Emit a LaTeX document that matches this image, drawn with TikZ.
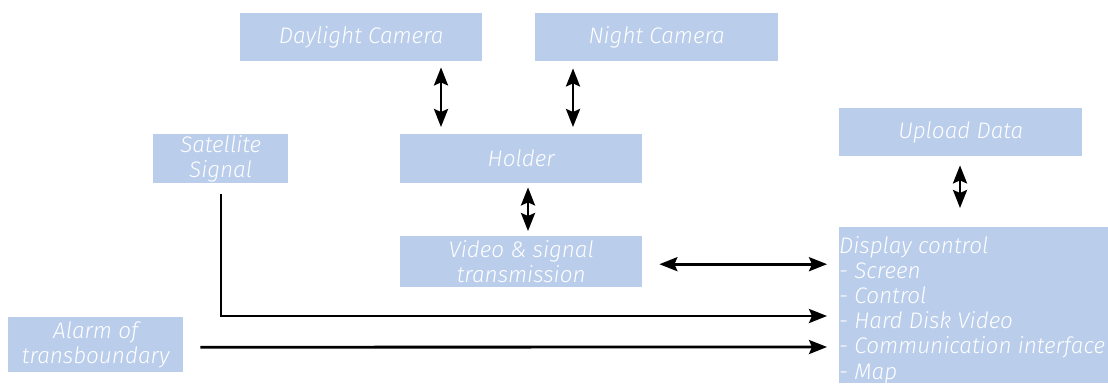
\documentclass[tikz,border=0pt]{standalone}
\usepackage{fontspec}
\setmainfont{Fira Sans}[UprightFont=* Light, ItalicFont=* Light Italic]
\usetikzlibrary{arrows.meta,calc}
\definecolor{boxblue}{RGB}{186,205,235}
\begin{document}
\begin{tikzpicture}[x=1pt,y=-1pt,
  box/.style={fill=boxblue, draw=none, text=white, font=\fontsize{22.5}{25}\selectfont\itshape, align=center, inner sep=0pt, anchor=north west},
  link/.style={line width=2.8pt, {Stealth[length=18pt,width=14pt,inset=3pt]}-{Stealth[length=18pt,width=14pt,inset=3pt]}},
  feed/.style={line width=2.8pt, -{Stealth[length=18pt,width=14pt,inset=3pt]}}]
\useasboundingbox (0,0) rectangle (1108,383);
\node[box, minimum width=242pt, minimum height=48pt] (daylight) at (240,13) {Daylight Camera};
\node[box, minimum width=243pt, minimum height=48pt] (night) at (535,13) {Night Camera};
\node[box, minimum width=135pt, minimum height=49pt] (satellite) at (153,134) {Satellite\\Signal};
\node[box, minimum width=242pt, minimum height=49pt] (holder) at (400,134) {Holder};
\node[box, minimum width=243pt, minimum height=48pt] (upload) at (839,108) {Upload Data};
\node[box, minimum width=242pt, minimum height=51pt] (video) at (400,236) {Video \& signal\\transmission};
\node[box, minimum width=269pt, minimum height=156pt] (display) at (839,227) {};
\node[box, fill=none, align=left, font=\fontsize{22.5}{25.2}\selectfont\itshape] (displaytext) at (839,236) {Display control\\- Screen\\- Control\\- Hard Disk Video\\- Communication interface\\- Map};
\node[box, minimum width=175pt, minimum height=55pt] (alarm) at (8,317) {Alarm of\\transboundary};
\draw[link] ($(daylight.south west)+(201,6)$) -- ($(holder.north west)+(41,-7)$);
\draw[link] ($(night.south west)+(38,7)$) -- ($(holder.north west)+(173,-7)$);
\draw[link] ($(holder.south west)+(128,4)$) -- ($(video.north west)+(128,-5)$);
\draw[link] ($(upload.south west)+(121,9)$) -- ($(display.north west)+(121,-19)$);
\draw[link] ($(video.east)+(17,2.5)$) -- ($(video.east -| display.west)+(-12,2.5)$);
\draw[feed] ($(satellite.south west)+(68,11)$) |- ($(display.north west)+(-12,89)$);
\draw[feed] ($(alarm.east)+(17,2.5)$) -- ($(display.north west)+(-12,120)$);
\end{tikzpicture}
\end{document}
